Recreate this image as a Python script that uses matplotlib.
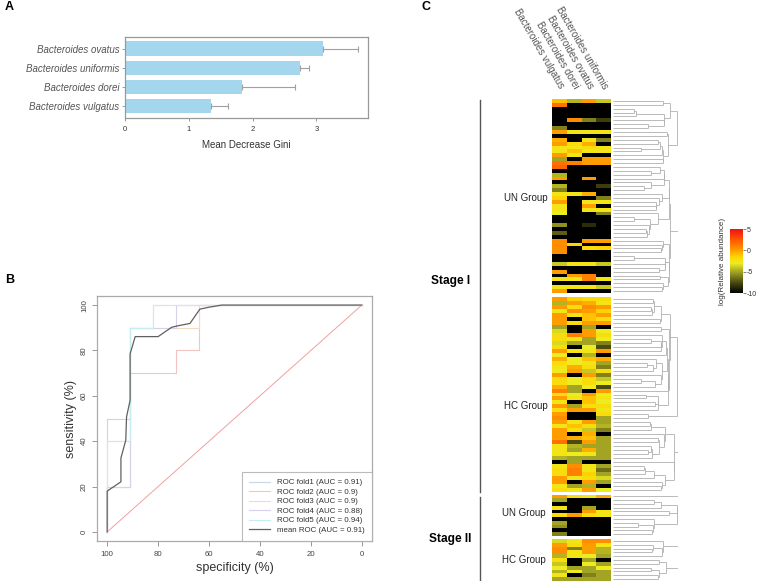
import numpy as np
import matplotlib
matplotlib.use("Agg")
import matplotlib.pyplot as plt
from matplotlib.colors import LinearSegmentedColormap, Normalize

plt.rcParams['font.family'] = ['Liberation Sans', 'DejaVu Sans']
plt.rcParams['axes.unicode_minus'] = False

# ---------------- data ----------------
species = ["Bacteroides ovatus", "Bacteroides uniformis", "Bacteroides dorei", "Bacteroides vulgatus"]
gini = [3.10, 2.75, 1.83, 1.35]
gini_err = [0.55, 0.13, 0.83, 0.27]

spec_ticks = [100, 80, 60, 40, 20, 0]
sens_ticks = [0, 20, 40, 60, 80, 100]

fold_names = ["ROC fold1 (AUC = 0.91)", "ROC fold2 (AUC = 0.9)", "ROC fold3 (AUC = 0.9)",
              "ROC fold4 (AUC = 0.88)", "ROC fold5 (AUC = 0.94)"]
fold_spec = [[100, 100, 91, 91, 82, 82, 0],
             [100, 100, 91, 91, 73, 73, 64, 64, 0],
             [100, 100, 91, 91, 64, 64, 0],
             [100, 100, 91, 91, 73, 73, 0],
             [100, 100, 91, 91, 82, 82, 0]]
fold_sens = [[0, 50, 50, 90, 90, 100, 100],
             [0, 20, 20, 70, 70, 80, 80, 100, 100],
             [0, 40, 40, 90, 90, 100, 100],
             [0, 20, 20, 90, 90, 100, 100],
             [0, 40, 40, 90, 90, 100, 100]]
mean_name = "mean ROC (AUC = 0.91)"
mean_spec = [100, 100, 94.6, 94.6, 92.7, 92.4, 91.0, 91.0, 89.0, 80.0, 74.7, 72.1, 67.5, 63.6, 60.3, 55.0, 0]
mean_sens = [0, 18, 22.1, 32.6, 40.4, 50.7, 58.0, 78.5, 86.1, 86.1, 90.2, 90.9, 91.9, 98.2, 99.0, 100, 100]

heat_columns = ["Bacteroides vulgatus", "Bacteroides dorei", "Bacteroides ovatus", "Bacteroides uniformis"]
K = -10
stage1_un = [
    [-1, -4.5, 0, -4], [1.5, K, K, K], [K, K, K, K], [K, K, K, K], [K, K, K, K],
    [K, 0.5, -6, -8], [K, K, K, K], [-6, K, K, K], [0, -2.5, -2.5, -2.5], [K, K, K, K],
    [-0.5, K, -2.5, -6], [0, -2, -0.5, K], [-2.5, -2.5, -2, -2.5], [-2.5, -1, -2.5, -2.5], [0, -2.5, K, K],
    [-5, K, 0, 0], [1.5, 1, 0, 0], [2, K, K, K], [K, K, K, K], [-4.5, K, K, K],
    [0, K, 0, K], [K, K, K, K], [-4.5, K, K, -8], [-6, K, K, K], [-2.5, -2.5, -0.5, K],
    [-1.5, K, K, -6], [0, K, -2.5, -2.5], [-2.5, K, 0, K], [-2.5, K, -2.5, -2.5], [-3, K, K, -6],
    [K, K, K, K], [K, K, K, K], [-5.5, K, -8.5, K], [K, K, K, K], [-7, K, K, K],
    [K, K, K, K], [0.5, K, 0, 0], [0.5, -1.5, K, K], [0.5, K, -2, -1.5], [0.5, K, K, K],
    [K, K, K, K], [K, K, K, K], [-4, -2.5, -2.5, -4], [K, K, K, K], [0, K, K, K],
    [K, 0, 1, K], [-2.5, -2.5, 1, -2.5], [K, K, K, K], [-2.5, -2.5, -2.5, -4], [0, K, K, K]]
stage1_hc = [
    [0, -1.5, -2, -2], [-4.5, 0, -0.5, -2.5], [0, -2, 0.5, 0], [-2.5, 0.5, 0, -1.5], [0, -2.5, -1, 0],
    [0, K, -1, -2], [0, -2, 0, 0], [-5, K, -5, K], [-3.5, K, 0, -3], [-2, 1, 0, -2],
    [-2, -2.5, -5, -3], [-3.5, -5, -5, -6], [-2, K, -3, -7.5], [0, -2.5, -2.5, 0], [-3, K, -4.5, K],
    [-0.5, -3, -1, -0.5], [-2, -3, -2.5, -5], [-2.5, -0.5, -2, -6], [-3, 0, -4, -2], [0, K, 0, -6],
    [-2, -3, -2, -4], [-2, -3, -2, -3], [-0.5, -5, -3, -7.5], [1, -5, K, 0], [-2, -3, 0, -3],
    [0, -2.5, -1, -2.5], [-2.5, K, -1, -3], [0, -5, -2, -2], [-2, 0, 0, -2.5], [0, K, K, -2],
    [0.5, K, K, -5], [0, -2.5, 0, -5], [-2.5, -1, -2, -4.5], [0, -2, -4, -6], [0, K, -0.5, K],
    [0, -0.5, -1, -5], [1.5, -7.5, 0, -5], [-2.5, -4.5, -5, -5], [-2.5, -5, -0.5, -5], [-2.5, -3, -2.5, -5],
    [-4.5, -5, -5, -5], [K, -5, K, K], [-2.5, 0.5, -2.5, -5], [-2, 1, -2.5, -6.5], [-2, 1, -1.5, -5],
    [0, -2.5, -2, -3.5], [0, K, 0, -5], [-2.5, -5, -4.5, K], [-2, -2.5, 0, -3]]
stage2_un = [
    [0, -2, -2.5, -0.5], [-5, K, K, K], [K, K, K, K], [-2.5, K, -5, K], [K, K, 0, -2.5],
    [-2, 0, -2, -2.5], [K, K, K, K], [-5, K, K, K], [-5.5, K, K, K], [K, K, K, K], [-6, K, K, K]]
stage2_hc = [
    [-3.5, -2.5, 0.5, 0.5], [0, -2, 0, -2.5], [0.5, -6, 0, -4.5], [0.5, -2.5, 0, -4.5], [-4.5, -2.5, -3, -5],
    [-2, K, -5, K], [-4, K, -3, -5], [-3, -5, -5, -3], [-4.5, -3, -5, -5], [-2.5, K, -6, -5], [-5, -5, -5, -5]]
cbar_ticks = [5, 0, -5, -10]

# ---------------- helpers ----------------
W, H = 758, 581
fig = plt.figure(figsize=(W / 100, H / 100), dpi=100)


def ax_px(x0, y0, x1, y1):
    return fig.add_axes([x0 / W, 1 - y1 / H, (x1 - x0) / W, (y1 - y0) / H])


def txt(x, y, s, **kw):
    return fig.text(x / W, 1 - y / H, s, **kw)


def adjacent_tree(X):
    """order-preserving Ward clustering of the rows; returns line segments and root height"""
    X = np.asarray(X, float)
    cent = [X[i].copy() for i in range(len(X))]
    size = [1] * len(X)
    pos = [i + 0.5 for i in range(len(X))]
    hts = [0.0] * len(X)
    segs = []
    while len(cent) > 1:
        ds = []
        for j in range(len(cent) - 1):
            na, nb = size[j], size[j + 1]
            d = np.sqrt(2.0 * na * nb / (na + nb)) * np.linalg.norm(cent[j] - cent[j + 1])
            ds.append(d)
        j = int(np.argmin(ds))
        h = max(ds[j], hts[j], hts[j + 1]) + 0.4
        segs.append(((hts[j], h), (pos[j], pos[j])))
        segs.append(((hts[j + 1], h), (pos[j + 1], pos[j + 1])))
        segs.append(((h, h), (pos[j], pos[j + 1])))
        n = size[j] + size[j + 1]
        c = (cent[j] * size[j] + cent[j + 1] * size[j + 1]) / n
        newpos = (pos[j] + pos[j + 1]) / 2
        cent[j:j + 2] = [c]
        size[j:j + 2] = [n]
        pos[j:j + 2] = [newpos]
        hts[j:j + 2] = [h]
    return segs, hts[0]


# ---------------- panel A ----------------
axA = ax_px(125, 37, 368, 118)
ypos = np.arange(len(species))[::-1]
axA.barh(ypos, gini, height=0.74, color='#a4d7ee', edgecolor='none', zorder=2)
axA.errorbar(gini, ypos, xerr=[np.zeros(len(gini)), gini_err], fmt='none',
             ecolor='#a0a0a0', elinewidth=0.8, capsize=2, capthick=0.8, zorder=3)
axA.set_xlim(0, 3.81)
axA.set_ylim(-0.62, 3.6)
axA.set_yticks(ypos)
axA.set_yticklabels(species, fontstyle='italic', fontsize=7, color='#555555')
axA.set_xticks([0, 1, 2, 3])
axA.tick_params(axis='x', labelsize=5.5, colors='#888888', labelcolor='#333333', length=2.5, width=0.6, pad=3)
axA.tick_params(axis='y', length=2, width=0.6, colors='#888888', labelcolor='#555555', pad=2)
for s in axA.spines.values():
    s.set_color('#999999')
    s.set_linewidth(0.9)
axA.set_xlabel("Mean Decrease Gini", fontsize=7, color='#333333', labelpad=5)
txt(5, 7, "A", fontsize=9, fontweight='bold', va='center', ha='left')

# ---------------- panel B ----------------
axB = ax_px(97, 296, 372, 541)
fold_colors = ['#c9d6e6', '#f2c4c4', '#f2dcc0', '#d9d0ea', '#c6eef2']
axB.plot([100, 0], [0, 100], color='#f0a0a0', lw=0.7, zorder=1)
for sp, se, c, n in zip(fold_spec, fold_sens, fold_colors, fold_names):
    axB.plot(sp, se, color=c, lw=0.8, label=n, zorder=2)
axB.plot(mean_spec, mean_sens, color='#606060', lw=0.9, label=mean_name, zorder=3)
axB.set_xlim(104, -4)
axB.set_ylim(-4, 104)
axB.set_xticks(spec_ticks)
axB.set_yticks(sens_ticks)
axB.tick_params(axis='both', labelsize=5.6, colors='#888888', labelcolor='#444444', length=3.5, width=0.6)
axB.tick_params(axis='y', labelrotation=90, pad=3)
for lab in axB.get_yticklabels():
    lab.set_va('center')
for s in axB.spines.values():
    s.set_color('#aaaaaa')
    s.set_linewidth(0.9)
axB.set_xlabel("specificity (%)", fontsize=9, color='#333333', labelpad=3)
axB.set_ylabel("sensitivity (%)", fontsize=9, color='#333333', labelpad=3)
leg = axB.legend(loc='lower right', fontsize=5.7, frameon=True, fancybox=False,
                 borderaxespad=0, handlelength=2.6, handletextpad=0.9, labelspacing=0.25,
                 borderpad=0.9)
leg.get_frame().set_edgecolor('#aaaaaa')
leg.get_frame().set_linewidth(0.8)
for t in leg.get_texts():
    t.set_color('#333333')
txt(5, 280, "B", fontsize=9, fontweight='bold', va='center', ha='left')

# ---------------- panel C ----------------
cmap = LinearSegmentedColormap.from_list('abund', [
    (0.0, '#000000'), (0.1667, '#4b4b12'), (0.3333, '#a3a324'), (0.4667, '#ecec20'),
    (0.5667, '#ffd400'), (0.6667, '#ff9c00'), (0.8, '#ff6400'), (1.0, '#f01010')])
norm = Normalize(-10, 5)

blocks = [(stage1_un, 99, 293), (stage1_hc, 297, 492), (stage2_un, 494.5, 536), (stage2_hc, 539, 581)]
mesh = None
for data, y0, y1 in blocks:
    M = np.asarray(data, float)
    axh = ax_px(552, y0, 611, y1)
    mesh = axh.pcolormesh(np.arange(M.shape[1] + 1), np.arange(M.shape[0] + 1), M,
                          cmap=cmap, norm=norm)
    axh.set_ylim(M.shape[0], 0)
    axh.set_xlim(0, M.shape[1])
    axh.axis('off')
    segs, root = adjacent_tree(M)
    axd = ax_px(612.5, y0, 678, y1)
    off = 0.3 * np.sqrt(root)
    scale = lambda v: 0.0 if v == 0 else np.sqrt(v) + off
    for xs, ys in segs:
        axd.plot([scale(xs[0]), scale(xs[1])], ys, color='#b0b0b0', lw=0.6, solid_capstyle='butt')
    axd.set_xlim(0, scale(root) * 1.005)
    axd.set_ylim(M.shape[0], 0)
    axd.axis('off')

# column labels
col_x = [559.4, 574.1, 588.9, 603.6]
for cx, name in zip(col_x, heat_columns):
    txt(cx + 2, 88, name, rotation=-60, rotation_mode='anchor', ha='right', va='center',
        fontsize=7, color='#555555')

# stage lines and labels
lineax = fig.add_axes([0, 0, 1, 1], facecolor='none')
lineax.set_xlim(0, W)
lineax.set_ylim(H, 0)
lineax.axis('off')
lineax.plot([480, 480], [100, 492], color='#555555', lw=1.0)
lineax.plot([480, 480], [497, 581], color='#555555', lw=1.0)
txt(470, 281, "Stage I", fontsize=8.6, fontweight='bold', ha='right', va='center')
txt(471, 539, "Stage II", fontsize=8.6, fontweight='bold', ha='right', va='center')
txt(548, 198, "UN Group", fontsize=7, ha='right', va='center', color='#222222')
txt(548, 406, "HC Group", fontsize=7, ha='right', va='center', color='#222222')
txt(546, 513, "UN Group", fontsize=7, ha='right', va='center', color='#222222')
txt(546, 560, "HC Group", fontsize=7, ha='right', va='center', color='#222222')
txt(421, 7, "C", fontsize=9, fontweight='bold', va='center', ha='left')

# colorbar
cax = ax_px(730, 229, 743, 293)
cb = fig.colorbar(mesh, cax=cax, ticks=cbar_ticks)
cb.outline.set_visible(False)
cax.tick_params(labelsize=5, length=2, width=0.5, colors='#555555', labelcolor='#333333', pad=1)
txt(722, 261, "log(Relative abundance)", rotation=90, fontsize=5.8, ha='center', va='center',
    color='#333333')

fig.savefig("out.png", dpi=100)
